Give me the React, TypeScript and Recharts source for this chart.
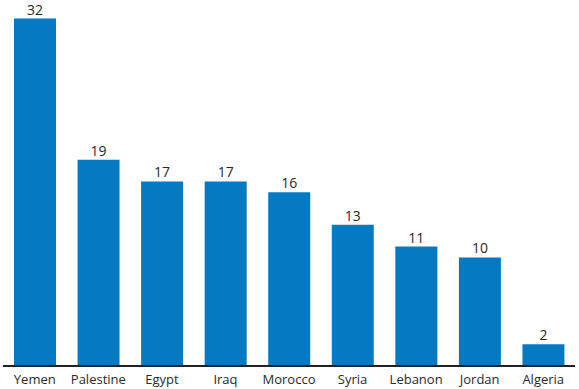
import React from "react";
import { BarChart, Bar, XAxis, YAxis, LabelList } from "recharts";

const countries = ["Yemen", "Palestine", "Egypt", "Iraq", "Morocco", "Syria", "Lebanon", "Jordan", "Algeria"];
const values = [32, 19, 17, 17, 16, 13, 11, 10, 2];

const data = countries.map((c, i) => ({ country: c, value: values[i] }));

const font = "'Open Sans', sans-serif";

export default function App() {
  return (
    <div style={{ position: "absolute", left: 0, top: 0, width: 579, height: 389, background: "#fff" }}>
      <BarChart
        width={579}
        height={389}
        data={data}
        margin={{ top: 18.5, right: 4, bottom: 0, left: 3 }}
        barSize={42}
      >
        <XAxis
          dataKey="country"
          height={23}
          tickLine={false}
          axisLine={{ stroke: "#222", strokeWidth: 2 }}
          tickMargin={3}
          tick={{ fill: "#2a2a2a", fontSize: 13, fontFamily: font }}
          interval={0}
        />
        <YAxis hide domain={[0, 32]} />
        <Bar dataKey="value" fill="#0679C3" isAnimationActive={false}>
          <LabelList
            dataKey="value"
            position="top"
            offset={4}
            style={{ fill: "#2a2a2a", fontSize: 14, fontFamily: font }}
          />
        </Bar>
      </BarChart>
    </div>
  );
}
